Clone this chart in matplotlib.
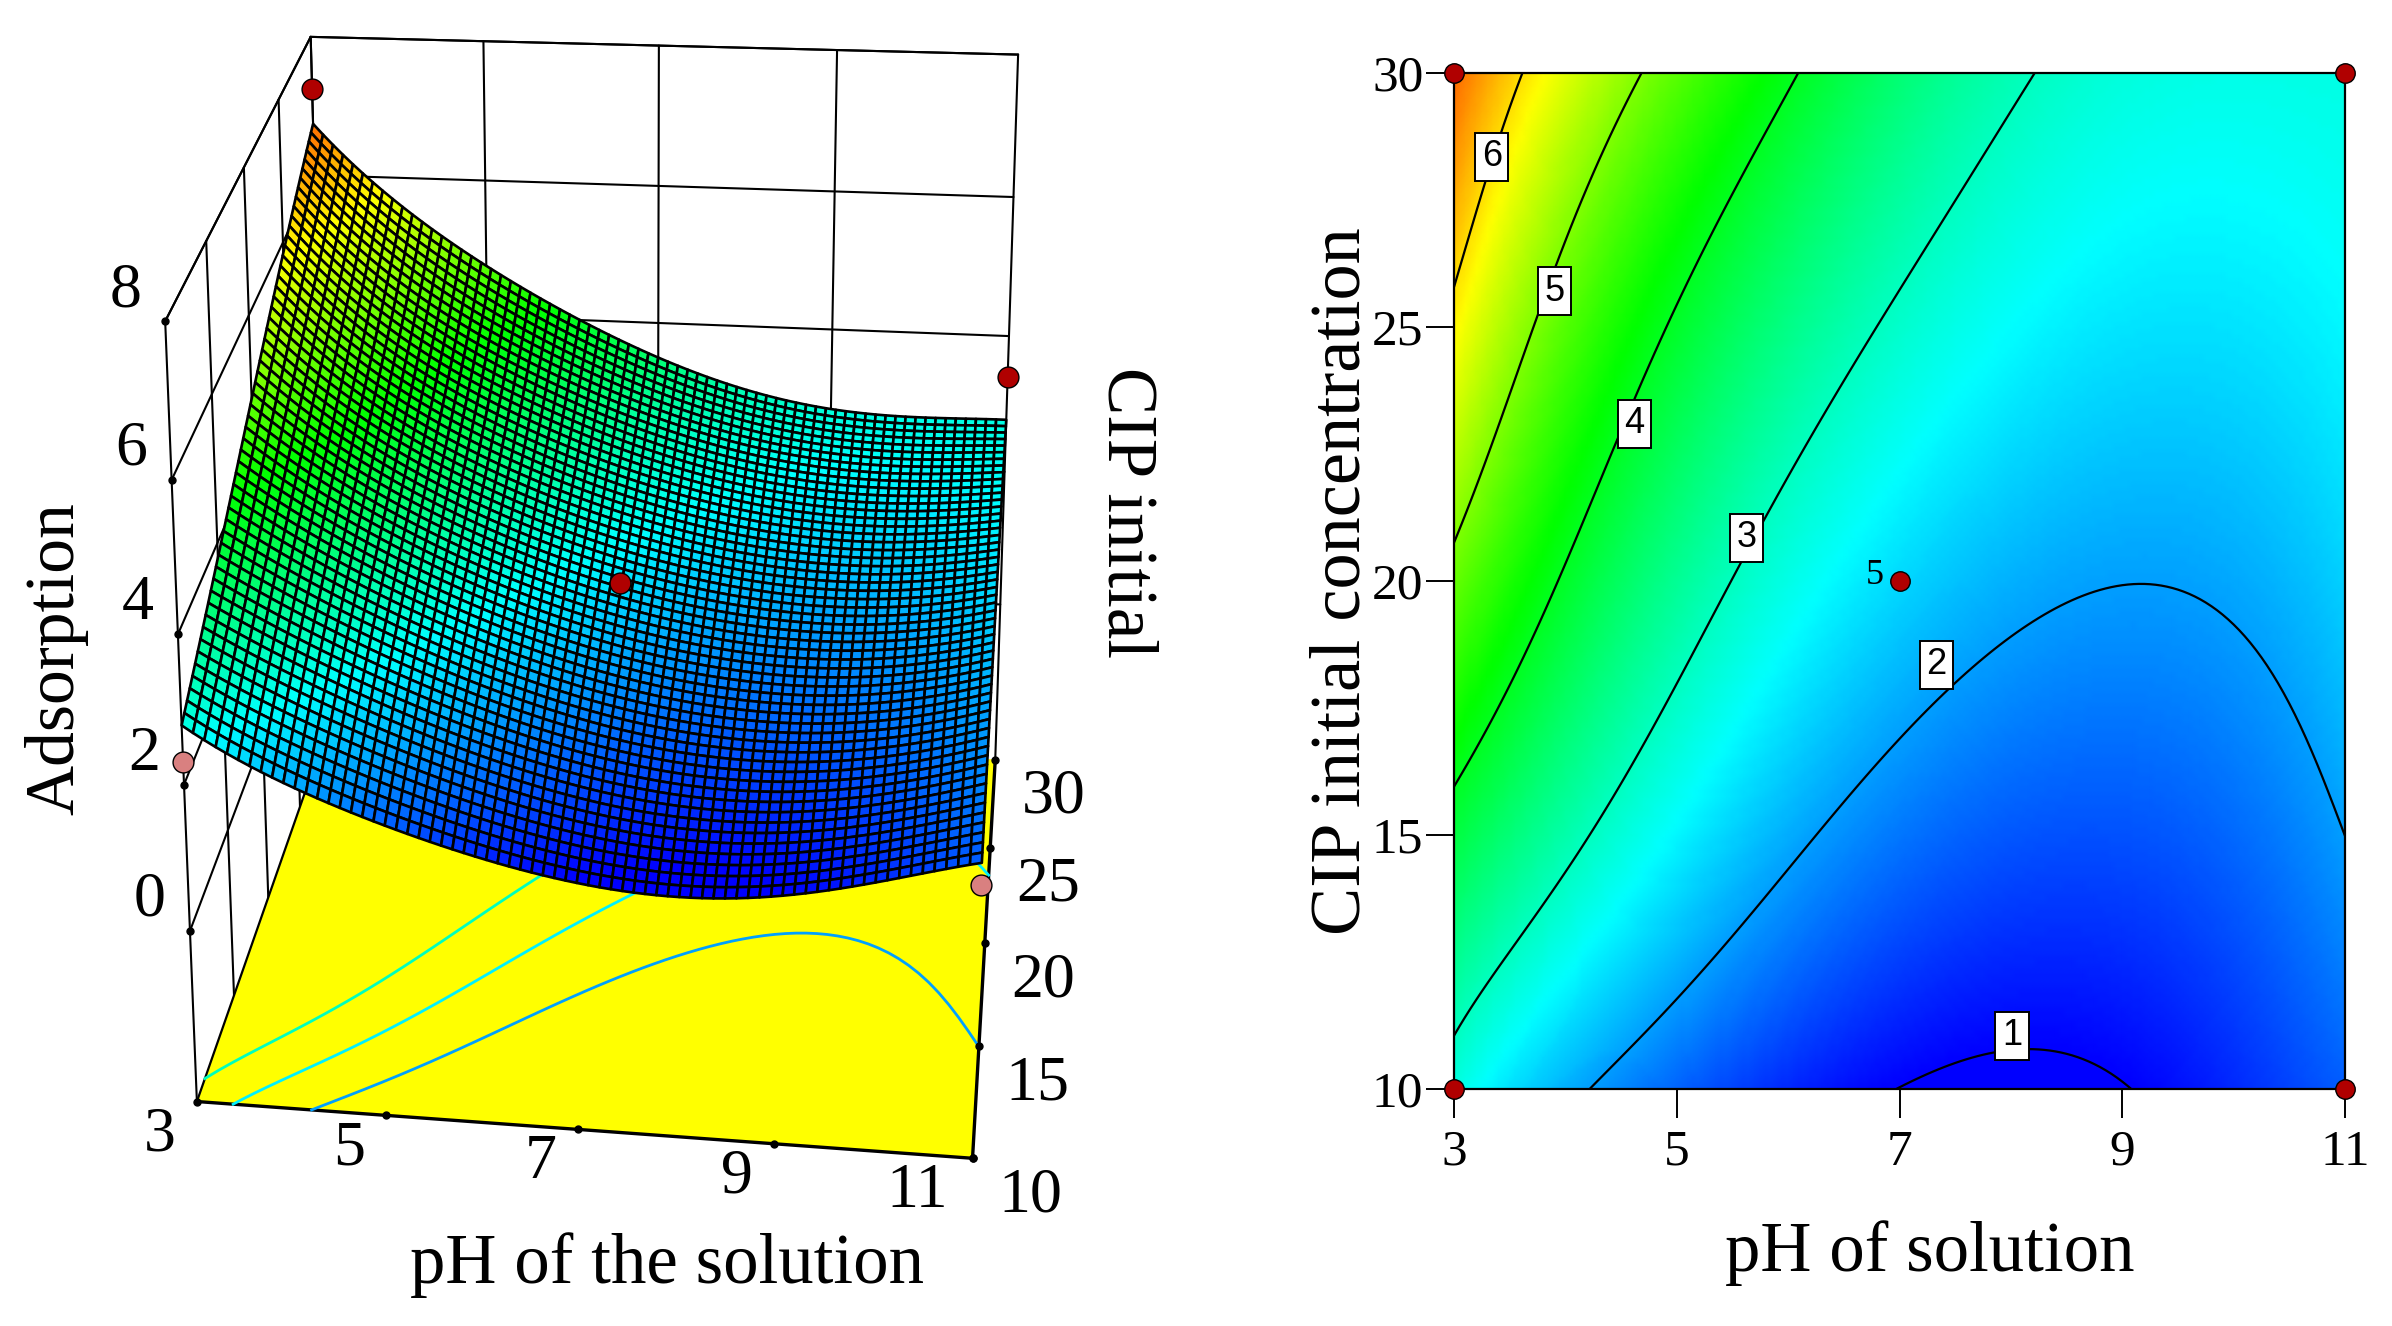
# -*- coding: utf-8 -*-
"""Response surface of adsorption (left) and its contour map (right)."""

import numpy as np
import matplotlib
matplotlib.use('Agg')
import matplotlib.pyplot as plt
from matplotlib.collections import PolyCollection
from matplotlib.colors import LinearSegmentedColormap, Normalize

# values
ph_values = [3, 4, 5, 6, 7, 8, 9, 10, 11]
conc_values = [10, 15, 20, 25, 30]
ads_c10 = [2.80, 2.10, 1.65, 1.25, 0.98, 0.90, 1.00, 1.25, 1.60]
ads_c15 = [3.80, 3.12, 2.62, 2.08, 1.75, 1.55, 1.50, 1.65, 1.98]
ads_c20 = [4.85, 3.95, 3.22, 2.75, 2.38, 2.14, 2.02, 2.10, 2.35]
ads_c25 = [5.85, 4.70, 4.00, 3.35, 2.90, 2.60, 2.45, 2.40, 2.55]
ads_c30 = [6.75, 5.60, 4.75, 4.05, 3.50, 3.05, 2.85, 2.75, 2.78]

contour_levels = [1, 2, 3, 4, 5, 6]
floor_levels = [2, 2.5, 3]
ph_ticks = [3, 5, 7, 9, 11]
conc_ticks = [10, 15, 20, 25, 30]
z_ticks = [0, 2, 4, 6, 8]

# design points: pH, concentration, adsorption
design_ph = [3, 11, 7, 3, 11]
design_conc = [30, 30, 20, 10, 10]
design_ads = [7.25, 3.4, 2.5, 2.3, 1.3]
design_above = [True, True, True, False, False]

# contour label positions: level, pH, concentration
label_levels = ['6', '5', '4', '3', '2', '1']
label_ph = [3.34, 3.90, 4.62, 5.63, 7.33, 8.01]
label_conc = [28.35, 25.7, 23.1, 20.85, 18.35, 11.05]

Z_FLOOR = -2.4
Z_TOP = 8
SCALE = 2392 / 1568

# box points as they sit on the page (shrunk picture px): pH, conc, z, x, y
camera_points = [
    (3, 10, Z_TOP, 103, 212),
    (3, 10, 0, 125, 605),
    (3, 10, Z_FLOOR, 129, 723),
    (5, 10, Z_FLOOR, 255, 732),
    (7, 10, Z_FLOOR, 381, 741),
    (9, 10, Z_FLOOR, 508, 748),
    (11, 10, Z_FLOOR, 637, 757),
    (11, 10, 1.6, 646, 562),
    (11, 15, Z_FLOOR, 641, 691),
    (11, 20, Z_FLOOR, 644, 625),
    (11, 25, Z_FLOOR, 646, 559),
    (11, 30, Z_FLOOR, 651, 493),
    (3, 30, Z_FLOOR, 217, 475),
    (3, 30, Z_TOP, 201, 23),
    (5, 30, Z_TOP, 318, 27),
    (7, 30, Z_TOP, 435, 32),
    (9, 30, Z_TOP, 552, 36),
    (11, 30, Z_TOP, 666, 41),
    (11, 30, 6, 665, 126),
    (11, 30, 4, 661, 211),
]

plt.rcParams['font.family'] = ['Liberation Serif', 'DejaVu Serif']

jet = LinearSegmentedColormap.from_list(
    'de_jet', ['#0000ff', '#00ffff', '#00ff00', '#ffff00', '#ff0000'])
norm = Normalize(1.0, 7.4)


def fit_camera():
    rows, rhs = [], []
    for ph, c, z, u, v in camera_points:
        u, v = u * SCALE, v * SCALE
        rows.append([ph, c, z, 1, 0, 0, 0, 0, -u * ph, -u * c, -u * z])
        rows.append([0, 0, 0, 0, ph, c, z, 1, -v * ph, -v * c, -v * z])
        rhs += [u, v]
    sol = np.linalg.lstsq(np.array(rows, float), np.array(rhs, float), rcond=None)[0]
    return np.append(sol, 1.0).reshape(3, 4)


CAM = fit_camera()


def project(ph, c, z):
    ph, c, z = np.broadcast_arrays(ph, c, z)
    w = np.stack([ph, c, z, np.ones_like(ph)], axis=-1).astype(float)
    p = w @ CAM.T
    return p[..., 0] / p[..., 2], p[..., 1] / p[..., 2]


def smooth_field(ph, c):
    # the drawn mesh is much finer than the table, so run a smooth fit through it
    table = np.array([ads_c10, ads_c15, ads_c20, ads_c25, ads_c30])
    tx, ty = np.meshgrid(ph_values, conc_values)
    deg = [5, 3]
    sx = lambda a: (np.asarray(a, float) - 7) / 4
    sy = lambda a: (np.asarray(a, float) - 20) / 10
    vand = np.polynomial.polynomial.polyvander2d(sx(tx).ravel(), sy(ty).ravel(), deg)
    coef = np.linalg.lstsq(vand, table.ravel(), rcond=None)[0]
    coef = coef.reshape(deg[0] + 1, deg[1] + 1)
    return np.polynomial.polynomial.polyval2d(sx(ph), sy(c), coef)


fig = plt.figure(figsize=(23.92, 13.26), dpi=100)

# ---- left: surface, drawn on a page-sized axes through the camera ----
ax3d = fig.add_axes([0, 0, 1, 1])
ax3d.set_xlim(0, 2392)
ax3d.set_ylim(1326, 0)
ax3d.axis('off')


def line3d(ph, c, z, **kw):
    x, y = project(ph, c, z)
    ax3d.plot(x, y, color='black', solid_capstyle='round', **kw)


# walls
for ph in ph_ticks:
    line3d([ph, ph], [30, 30], [Z_FLOOR, Z_TOP], lw=1.5, zorder=1)
for c in conc_ticks:
    line3d([3, 3], [c, c], [Z_FLOOR, Z_TOP], lw=1.5, zorder=1)
for z in z_ticks + [Z_TOP]:
    line3d([3, 11], [30, 30], [z, z], lw=1.5, zorder=1)
    line3d([3, 3], [10, 30], [z, z], lw=1.5, zorder=1)

# floor
fx, fy = project([3, 11, 11, 3], [10, 10, 30, 30], Z_FLOOR)
ax3d.fill(fx, fy, facecolor='#ffff00', edgecolor='none', zorder=2)
line3d([3, 11, 11], [10, 10, 30], Z_FLOOR, lw=2.4, zorder=3)
line3d([3, 3], [10, 30], Z_FLOOR, lw=1.6, zorder=3)

fine_ph = np.linspace(3, 11, 71)
fine_c = np.linspace(10, 30, 56)
grid_ph, grid_c = np.meshgrid(fine_ph, fine_c)
field = smooth_field(grid_ph, grid_c)

# floor contours come from a throwaway contour call on a hidden axes
ax_tmp = fig.add_axes([0, 0, 0.01, 0.01], visible=False)
floor_cs = ax_tmp.contour(grid_ph, grid_c, field, levels=floor_levels)
for lev, segs in zip(floor_levels, floor_cs.allsegs):
    for seg in segs:
        x, y = project(seg[:, 0], seg[:, 1], Z_FLOOR)
        ax3d.plot(x, y, color=jet(norm(lev)), lw=2.0, zorder=3)
fig.delaxes(ax_tmp)

# surface mesh, back row first
sx, sy = project(grid_ph, grid_c, field)
polys, faces = [], []
for j in range(len(fine_c) - 2, -1, -1):
    for i in range(len(fine_ph) - 1):
        polys.append([(sx[j, i], sy[j, i]), (sx[j, i + 1], sy[j, i + 1]),
                      (sx[j + 1, i + 1], sy[j + 1, i + 1]), (sx[j + 1, i], sy[j + 1, i])])
        faces.append(field[j:j + 2, i:i + 2].mean())
mesh = PolyCollection(polys, facecolors=jet(norm(np.array(faces))),
                      edgecolors='black', linewidths=1.9, zorder=4)
ax3d.add_collection(mesh)

# tick dots
tx, ty = project(ph_ticks, 10, Z_FLOOR)
ax3d.plot(tx, ty, 'o', color='black', ms=5, zorder=5)
for x, y, lab in zip(tx, ty, ph_ticks):
    dx = -55 if lab == 11 else -37
    ax3d.text(x + dx, y + 34, str(lab), fontsize=46, ha='center', va='center', zorder=6)
tx, ty = project(11, conc_ticks, Z_FLOOR)
ax3d.plot(tx, ty, 'o', color='black', ms=5, zorder=5)
for x, y, lab in zip(tx, ty, conc_ticks):
    ax3d.text(x + 58, y + 38, str(lab), fontsize=46, ha='center', va='center', zorder=6)
tx, ty = project(3, 10, z_ticks)
ax3d.plot(tx, ty, 'o', color='black', ms=5, zorder=3)
for x, y, lab in zip(tx, ty, z_ticks):
    ax3d.text(x - 40, y - 30, str(lab), fontsize=46, ha='center', va='center', zorder=6)

# design points
for ph, c, z, above in zip(design_ph, design_conc, design_ads, design_above):
    x, y = project(ph, c, z)
    ax3d.plot(x, y, 'o', ms=15, mfc='#b00000' if above else '#d98080',
              mec='black', mew=1.0, zorder=5)

ax3d.text(437 * SCALE, 829 * SCALE, 'pH of the solution', fontsize=51,
          ha='center', va='center')
ax3d.text(37 * SCALE, 432 * SCALE, 'Adsorption', fontsize=50, rotation=90,
          ha='center', va='center')
ax3d.text(738 * SCALE, 336 * SCALE, 'CIP initial', fontsize=51, rotation=270,
          ha='center', va='center')

# ---- right: contour map ----
left, right, top, bottom = 1454, 2345, 73, 1089
ax = fig.add_axes([left / 2392, 1 - bottom / 1326, (right - left) / 2392, (bottom - top) / 1326])
map_ph = np.linspace(3, 11, 161)
map_c = np.linspace(10, 30, 161)
map_x, map_y = np.meshgrid(map_ph, map_c)
map_z = smooth_field(map_x, map_y)
ax.pcolormesh(map_x, map_y, map_z, cmap=jet, norm=norm, shading='gouraud', rasterized=True)
ax.contour(map_x, map_y, map_z, levels=contour_levels, colors='black', linewidths=1.6)

ax.set_xlim(3, 11)
ax.set_ylim(10, 30)
ax.set_xticks(ph_ticks)
ax.set_yticks(conc_ticks)
ax.tick_params(axis='x', direction='out', length=21, width=1.4, labelsize=37, pad=8)
ax.tick_params(axis='y', direction='out', length=20, width=1.4, labelsize=37, pad=2)
for side in ax.spines.values():
    side.set_linewidth(1.6)
ax.set_xlabel('pH of solution', fontsize=51, labelpad=32, x=0.534)
ax.set_ylabel('CIP initial concentration', fontsize=52, labelpad=-2)

for lev, ph, c in zip(label_levels, label_ph, label_conc):
    ax.text(ph, c, lev, fontsize=26, family=['Liberation Sans', 'DejaVu Sans'],
            ha='center', va='center', zorder=6,
            bbox=dict(boxstyle='square,pad=0.18', fc='white', ec='black', lw=1.4))

for ph, c in zip(design_ph, design_conc):
    ax.plot(ph, c, 'o', ms=14, mfc='#b00000', mec='black', mew=1.0, clip_on=False, zorder=7)
ax.text(6.86, 20.1, '5', fontsize=26, ha='right', va='center', zorder=7)

fig.savefig('out.png', dpi=100)
